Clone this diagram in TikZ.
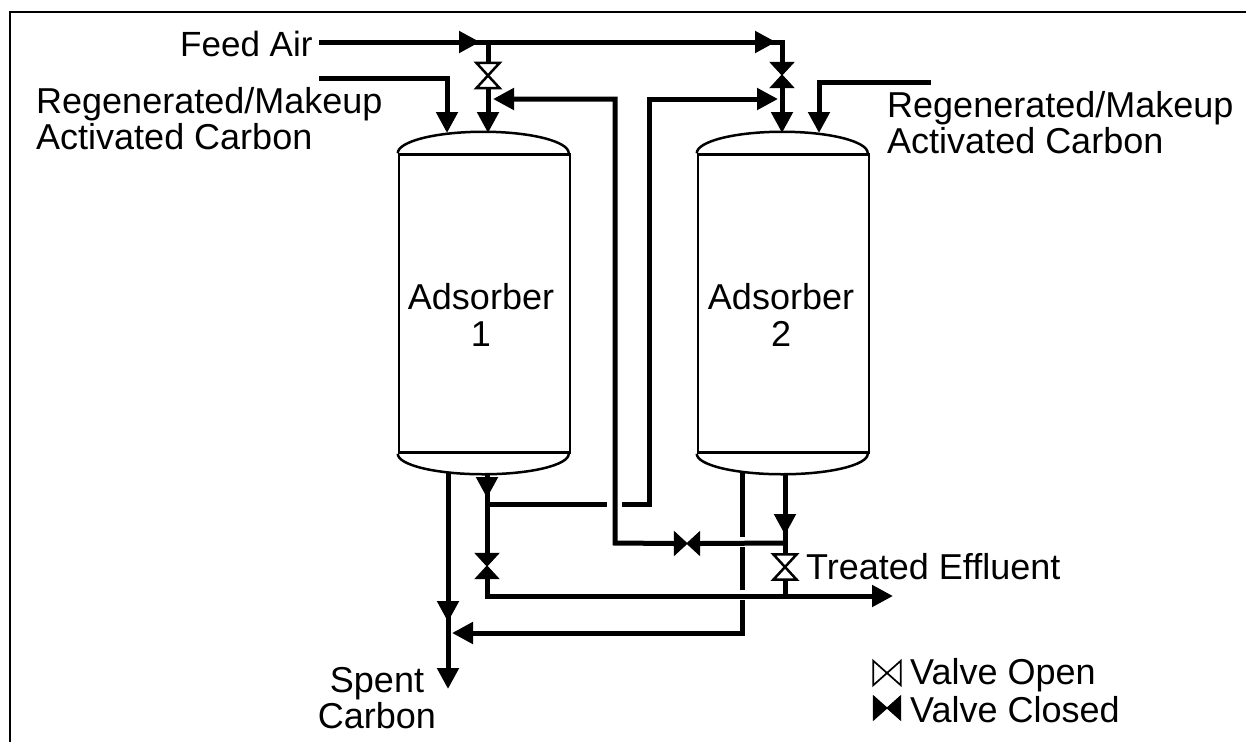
\documentclass[tikz,border=0pt]{standalone}
\usepackage{fontspec}
\setmainfont{Liberation Sans}
\usetikzlibrary{arrows.meta}
\tikzset{
    pipe/.style={draw, line width=5pt},
    feed/.style={pipe, -{Triangle[length=21pt,width=21pt]}},
    vessel/.style={draw, line width=2.5pt, minimum width=171pt, minimum height=298pt, inner sep=0pt},
    head/.style={draw, line width=2.5pt},
    lbl/.style={font=\fontsize{36}{36.5}\selectfont, inner sep=0pt, align=center},
    legend/.style={lbl, anchor=base west},
    valveopen/.style={draw, line width=2.5pt, fill=white, line join=miter},
    valveclosed/.style={draw, line width=1pt, fill=black},
}
% name, position, options of the node, look of the body
\newcommand{\valve}[4]{
    \node[minimum width=23pt, minimum height=25pt, inner sep=0pt, #3] (#1) at (#2) {};
    \draw[#4] (#1.north west) -- (#1.north east) -- (#1.south west) -- (#1.south east) -- cycle;
}
\begin{document}
\begin{tikzpicture}[x=1pt,y=-1pt]
    \useasboundingbox (0,0) rectangle (1246,742);
    % frame
    \draw[line width=2.5pt] (10,742) -- (10,12) -- (1246,12);

    % adsorbers
    \node[vessel] (ads1) at (484.5,303.5) {};
    \node[vessel] (ads2) at (783.5,303.5) {};
    \foreach \n in {ads1,ads2}{
        \draw[head] (\n.north west) arc[start angle=180, end angle=0, x radius=85.5pt, y radius=21.5pt];
        \draw[head] (\n.south west) arc[start angle=180, end angle=360, x radius=85.5pt, y radius=20.5pt];
    }
    \node[lbl] (ads1lbl) at (481,315) {Adsorber\\1};
    \node[lbl] (ads2lbl) at (781,315) {Adsorber\\2};

    % tie points
    \coordinate (feedin) at (319,42);
    \coordinate (tee1) at (488,42);
    \coordinate (corner1) at (782,42);
    \coordinate (top1) at (488,133);
    \coordinate (top2) at (782,133);
    \coordinate (makeupa) at (319,78);
    \coordinate (makeupb) at (447,78);
    \coordinate (makeupc) at (447,133);
    \coordinate (makeupd) at (931,82);
    \coordinate (makeupe) at (819,82);
    \coordinate (makeupf) at (819,133);
    \coordinate (out1) at (487,473);
    \coordinate (out2) at (785,473);
    \coordinate (spent1) at (448,472);
    \coordinate (spent2) at (448,622);
    \coordinate (spent3) at (448,689);
    \coordinate (rega) at (487,504);
    \coordinate (regb) at (607,504);
    \coordinate (regc) at (622,504);
    \coordinate (regd) at (649,504);
    \coordinate (rege) at (649,99);
    \coordinate (regf) at (615,99);
    \coordinate (regg) at (615,543);
    \coordinate (jct2) at (785,543);
    \coordinate (back0) at (742,471);
    \coordinate (back1) at (742,537);
    \coordinate (back2) at (742,547);
    \coordinate (back3) at (742,590);
    \coordinate (back4) at (742,600);
    \coordinate (back5) at (742,633);
    \coordinate (back6) at (452,633);
    \coordinate (mainl) at (487,596);
    \coordinate (mainm) at (785,596);
    \coordinate (mainr) at (893,596);

    % valves
    \valve{vin1}{488,75.5}{}{valveopen}
    \valve{vin2}{782,75}{}{valveclosed}
    \valve{vout1}{487,566}{}{valveclosed}
    \valve{vout2}{785,567}{}{valveopen}
    \valve{vreg}{687,543.5}{rotate=90}{valveclosed}

    % feed air
    \draw[pipe] (feedin) -- (corner1) -- (vin2.north);
    \draw[feed] (feedin) -- ([xshift=-8pt]tee1);
    \draw[feed] (tee1) -- ([xshift=-6pt]corner1);
    \draw[pipe] (tee1) -- (vin1.north);
    \draw[feed] (vin1.south) -- (top1);
    \draw[feed] (vin2.south) -- (top2);

    % makeup carbon
    \draw[feed] (makeupa) -- (makeupb) -- (makeupc);
    \draw[feed] (makeupd) -- (makeupe) -- (makeupf);

    % regeneration
    \draw[pipe] (out1) -- (vout1.north);
    \draw[feed] (out1) -- ([yshift=6pt]rega);
    \draw[pipe] (rega) -- (regb);
    \draw[feed] (regc) -- (regd) -- (rege) -- ([xshift=-4pt]corner1 |- rege);
    \draw[feed] (vreg.north) -- (regg) -- (regf) -- ([xshift=5pt]tee1 |- regf);
    \draw[pipe] (jct2) -- (vreg.south);

    % effluent
    \draw[pipe] (out2) -- (vout2.north);
    \draw[feed] (out2) -- ([yshift=8pt]jct2);
    \draw[pipe] (vout2.south) -- (mainm);
    \draw[pipe] (vout1.south) -- (mainl) -- (mainm);
    \draw[feed] (mainl) -- (mainr);

    % spent carbon
    \draw[feed] (spent1) -- (spent2);
    \draw[feed] (spent1) -- (spent3);
    \draw[pipe] (back0) -- (back1);
    \draw[pipe] (back2) -- (back3);
    \draw[feed] (back4) -- (back5) -- (back6);

    % labels
    \node[lbl, anchor=base west, font=\fontsize{35}{36.5}\selectfont] (feedlbl) at (180,56) {Feed Air};
    \node[lbl, anchor=north west, align=left] (makeup1) at (36,87) {Regenerated/Makeup\\Activated Carbon};
    \node[lbl, anchor=north west, align=left] (makeup2) at (887,91) {Regenerated/Makeup\\Activated Carbon};
    \node[lbl, anchor=base west] (treated) at (806,579) {Treated Effluent};
    \node[lbl] (spent) at (377,698) {Spent\\Carbon};

    % legend
    \valve{keyopen}{887,673}{rotate=90, minimum width=24pt, minimum height=27pt}{draw, line width=1.7pt}
    \valve{keyclosed}{887,708}{rotate=90, minimum width=24pt, minimum height=27pt}{valveclosed}
    \node[legend] (keyopenlbl) at (910,684) {Valve Open};
    \node[legend] (keyclosedlbl) at (910,722) {Valve Closed};
\end{tikzpicture}
\end{document}
